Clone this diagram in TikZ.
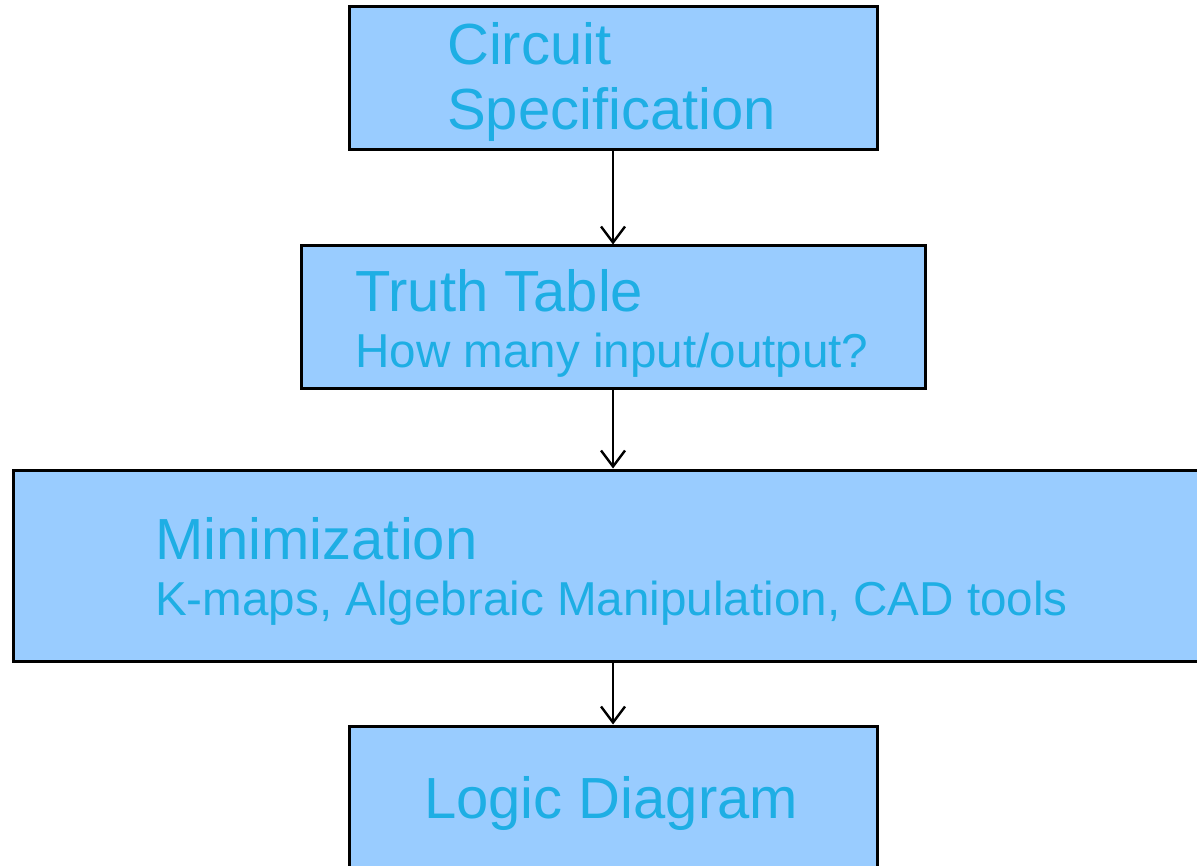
\documentclass[tikz,border=0pt]{standalone}
\usepackage{fontspec}
\setmainfont{Liberation Sans}
\usetikzlibrary{arrows.meta}
\definecolor{boxfill}{RGB}{153,204,255}
\definecolor{txtblue}{RGB}{30,174,228}
\tikzset{
  flowbox/.style={draw=black, line width=3pt, fill=boxfill, rectangle, inner sep=0pt},
  bigtxt/.style={anchor=base west, inner sep=0pt, text=txtblue, font=\fontsize{58}{66}\selectfont},
  smalltxt/.style={anchor=base west, inner sep=0pt, text=txtblue, font=\fontsize{47.6}{55}\selectfont},
  flowarrow/.style={draw=black, line width=2.4pt, -{Straight Barb[length=16pt,width=24pt,line width=2.4pt]}}
}
\begin{document}
\begin{tikzpicture}[x=1pt,y=1pt]
\useasboundingbox (0,0) rectangle (1197,-866);
\clip (0,0) rectangle (1197,-866);
\fill[white] (0,0) rectangle (1197,-866);
% boxes
\node[flowbox, minimum width=528pt, minimum height=143pt] (spec) at (613,-78.5) {};
\node[flowbox, minimum width=624pt, minimum height=143pt] (truth) at (613,-317.5) {};
\node[flowbox, minimum width=1197pt, minimum height=191pt] (mini) at (611.5,-565.5) {};
\node[flowbox, minimum width=528pt, minimum height=154pt] (logic) at (613,-803) {};
% texts
\node[bigtxt] (t1a) at (447,-65) {Circuit};
\node[bigtxt] (t1b) at (447,-130) {Specification};
\node[bigtxt] (t2a) at (355,-312) {Truth Table};
\node[smalltxt] (t2b) at (355,-368) {How many input/output?};
\node[bigtxt] (t3a) at (155,-559) {Minimization};
\node[smalltxt] (t3b) at (155,-615) {K-maps, Algebraic Manipulation, CAD tools};
\node[bigtxt] (t4a) at (424,-818) {Logic Diagram};
% arrows
\draw[flowarrow] (spec.south) -- (truth.north);
\draw[flowarrow] (truth.south) -- (truth.south |- mini.north);
\draw[flowarrow] (truth.south |- mini.south) -- (logic.north);
\end{tikzpicture}
\end{document}
